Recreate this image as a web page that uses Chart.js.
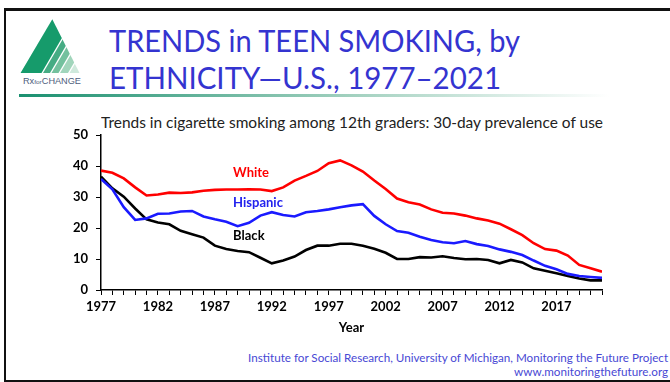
<!DOCTYPE html>
<html lang="en">
<head>
  <meta charset="UTF-8" />
  <title>Trends in Teen Smoking by Ethnicity</title>
  <script src="https://cdn.jsdelivr.net/npm/chart.js"></script>
  <style>
    body {
      margin: 0;
      width: 670px;
      height: 382px;
      background: #fff;
      position: relative;
      overflow: hidden;
      font-family: Lato, sans-serif;
    }

    .frame {
      position: absolute;
      left: 4px;
      top: 8px;
      width: 720px;
      height: 369px;
      border-top: 3px solid #111;
      border-left: 2px solid #111;
      border-bottom: 2px solid #111;
    }

    .fit {
      position: absolute;
      white-space: nowrap;
      line-height: 1;
    }

    .title {
      left: 109px;
      color: #3434d0;
      font-size: 31px;
      transform-origin: left top;
    }

    .rule {
      position: absolute;
      left: 19px;
      top: 94px;
      width: 590px;
      height: 3px;
      background: linear-gradient(to right, #1a9070, #9fcfbd 55%, #ffffff);
    }

    .subtitle {
      left: 101px;
      top: 114px;
      font-size: 16px;
      color: #222;
      transform-origin: left top;
    }

    .source {
      right: 2px;
      font-size: 12px;
      color: #4848d4;
      transform-origin: right top;
    }

    #chartBox {
      position: absolute;
      left: 0;
      top: 0;
      width: 670px;
      height: 382px;
    }
  </style>
</head>
<body>
  <div class="frame"></div>

  <!-- Rx for Change logo -->
  <svg width="100" height="92" style="position:absolute;left:0;top:0">
    <defs>
      <clipPath id="tri">
        <polygon points="52.3,19.3 20.5,73 79.5,73" />
      </clipPath>
    </defs>
    <g clip-path="url(#tri)">
      <polygon points="20,73 41.5,73 73,19 51.5,19" fill="#169b6b" />
      <polygon points="43,73 50,73 81.5,19 74.5,19" fill="#46ac84" />
      <polygon points="51.5,73 58.5,73 90,19 83,19" fill="#74c19e" />
      <polygon points="60,73 68,73 99.5,19 91.5,19" fill="#a1d5bb" />
      <polygon points="69.5,73 82,73 113.5,19 101,19" fill="#cfe9dc" />
    </g>
    <text x="23" y="84" font-family="Liberation Sans, Arial, sans-serif" font-size="8.5" fill="#4d5d7c"
          textLength="58" lengthAdjust="spacingAndGlyphs">Rx<tspan font-size="6" dy="-0.5">for</tspan><tspan dy="0.5">CHANGE</tspan></text>
  </svg>

  <div class="fit title" id="title1" style="top:25px" data-w="411">TRENDS in TEEN SMOKING, by</div>
  <div class="fit title" id="title2" style="top:62px" data-w="392">ETHNICITY—U.S., 1977–2021</div>
  <div class="rule"></div>

  <div class="fit subtitle" data-w="502">Trends in cigarette smoking among 12th graders: 30-day prevalence of use</div>

  <div class="fit source" style="top:352px" data-w="420">Institute for Social Research, University of Michigan, Monitoring the Future Project</div>
  <div class="fit source" style="top:366px" data-w="154">www.monitoringthefuture.org</div>

  <div id="chartBox">
    <canvas id="smokingChart"></canvas>
  </div>

  <script>
    const years = [1977, 1978, 1979, 1980, 1981, 1982, 1983, 1984, 1985, 1986,
                   1987, 1988, 1989, 1990, 1991, 1992, 1993, 1994, 1995, 1996,
                   1997, 1998, 1999, 2000, 2001, 2002, 2003, 2004, 2005, 2006,
                   2007, 2008, 2009, 2010, 2011, 2012, 2013, 2014, 2015, 2016,
                   2017, 2018, 2019, 2020, 2021];

    // 30-day prevalence (%) of cigarette use among 12th graders
    const white = [38.5, 37.8, 36.0, 33.1, 30.5, 30.8, 31.4, 31.3, 31.5, 32.0,
                   32.3, 32.4, 32.4, 32.5, 32.4, 31.9, 33.1, 35.3, 36.8, 38.4,
                   40.9, 41.8, 40.2, 38.2, 35.3, 32.6, 29.5, 28.3, 27.6, 26.0,
                   24.9, 24.7, 24.0, 23.1, 22.4, 21.4, 19.6, 17.7, 15.1, 13.2,
                   12.7, 11.1, 8.1, 7.0, 5.9];

    const hispanic = [35.8, 32.5, 26.7, 22.6, 23.1, 24.6, 24.7, 25.3, 25.5, 23.7,
                      22.8, 22.0, 20.6, 21.7, 24.0, 25.1, 24.2, 23.7, 25.1, 25.5,
                      26.0, 26.7, 27.3, 27.7, 23.9, 21.2, 19.0, 18.5, 17.2, 16.1,
                      15.4, 15.1, 15.8, 14.8, 14.2, 13.1, 12.3, 11.3, 9.5, 7.8,
                      6.7, 5.2, 4.5, 4.2, 3.9];

    const black = [36.6, 32.8, 30.1, 26.3, 22.8, 21.8, 21.2, 19.1, 18.0, 16.9,
                   14.3, 13.2, 12.6, 12.2, 10.4, 8.6, 9.5, 10.8, 12.9, 14.3,
                   14.3, 14.9, 14.9, 14.3, 13.3, 12.0, 10.0, 10.0, 10.6, 10.5,
                   10.9, 10.3, 9.9, 10.0, 9.7, 8.6, 9.7, 8.9, 7.0, 6.2,
                   5.4, 4.5, 3.7, 3.1, 3.1];

    const yTicks = [0, 10, 20, 30, 40, 50];

    // series names written inside the plot, anchored at (year, value)
    const seriesNames = ['White', 'Hispanic', 'Black'];
    const nameColors = ['#ff0000', '#2222ee', '#000000'];
    const nameAnchors = [[1988.6, 37.7], [1988.6, 28.1], [1988.6, 17.4]];

    // squeeze/stretch the html text lines to their measured widths
    document.querySelectorAll('.fit').forEach(el => {
      const w = el.getBoundingClientRect().width;
      el.style.transform = `scaleX(${el.dataset.w / w})`;
    });

    const toPoints = arr => arr.map((v, i) => ({ x: years[i], y: v }));

    const seriesNamePlugin = {
      id: 'seriesNamePlugin',
      afterDatasetsDraw: (chart) => {
        const ctx = chart.ctx;
        ctx.save();
        ctx.font = 'bold 13px Lato, sans-serif';
        ctx.textAlign = 'left';
        ctx.textBaseline = 'middle';
        seriesNames.forEach((name, i) => {
          ctx.fillStyle = nameColors[i];
          ctx.fillText(name,
            chart.scales.x.getPixelForValue(nameAnchors[i][0]),
            chart.scales.y.getPixelForValue(nameAnchors[i][1]));
        });
        ctx.restore();
      }
    };

    const tickFont = { family: 'Lato, sans-serif', size: 13, weight: 'bold' };

    new Chart(document.getElementById('smokingChart'), {
      type: 'line',
      data: {
        datasets: [
          { label: 'White', data: toPoints(white), borderColor: '#ff0000' },
          { label: 'Hispanic', data: toPoints(hispanic), borderColor: '#1a1aff' },
          { label: 'Black', data: toPoints(black), borderColor: '#000000' }
        ]
      },
      options: {
        responsive: true,
        maintainAspectRatio: false,
        animation: false,
        events: [],
        elements: {
          line: { borderWidth: 2.6, tension: 0, fill: false },
          point: { radius: 0 }
        },
        layout: {
          padding: { left: 0, top: 135, right: 68, bottom: 42 }
        },
        plugins: {
          legend: { display: false },
          tooltip: { enabled: false }
        },
        scales: {
          x: {
            type: 'linear',
            min: 1977,
            max: 2021,
            afterFit: (scale) => { scale.height = 50; },
            border: { color: '#000', width: 1.5 },
            grid: {
              drawOnChartArea: false,
              color: '#000',
              tickLength: 5,
              tickWidth: 1
            },
            ticks: {
              stepSize: 1,
              autoSkip: false,
              maxRotation: 0,
              padding: 4,
              color: '#000',
              font: tickFont,
              callback: (v) => ((v - 1977) % 5 === 0 ? String(v) : '')
            },
            title: {
              display: true,
              text: 'Year',
              color: '#000',
              font: tickFont,
              padding: { top: 0, bottom: 4 }
            }
          },
          y: {
            min: 0,
            max: 50,
            afterFit: (scale) => { scale.width = 101; },
            afterBuildTicks: (scale) => {
              scale.ticks = yTicks.map(v => ({ value: v }));
            },
            border: { color: '#000', width: 1.5 },
            grid: {
              drawOnChartArea: false,
              color: '#000',
              tickLength: 5,
              tickWidth: 1
            },
            ticks: {
              padding: 8,
              color: '#000',
              font: tickFont
            }
          }
        }
      },
      plugins: [seriesNamePlugin]
    });
  </script>
</body>
</html>
